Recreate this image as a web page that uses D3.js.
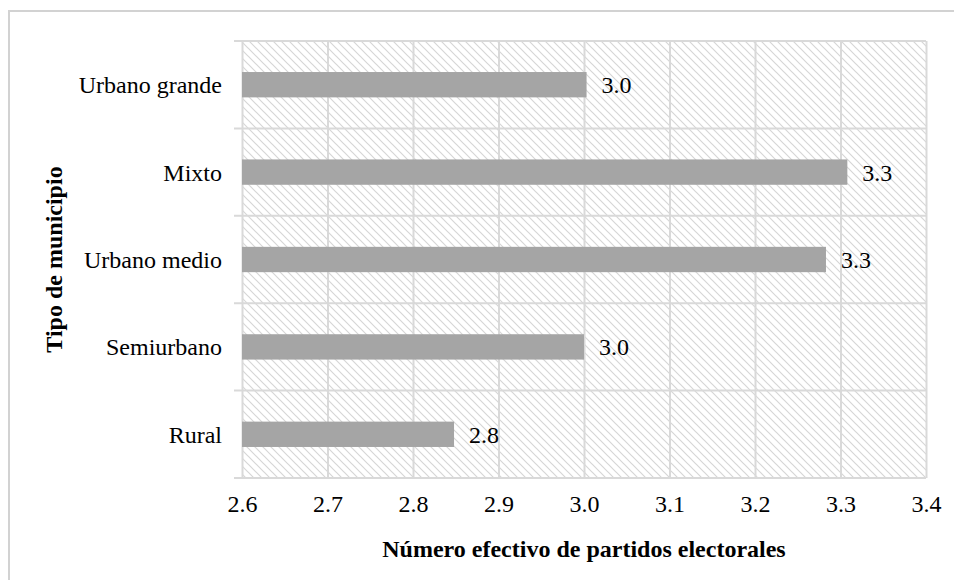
<!DOCTYPE html>
<html>
<head>
<meta charset="utf-8">
<script src="https://cdn.jsdelivr.net/npm/d3@7"></script>
<style>
  body { margin: 0; background: #fff; }
  text { font-family: 'Liberation Serif', 'Times New Roman', serif; fill: #000; }
</style>
</head>
<body>
<div id="chart"></div>
<script>
// data
var categories = ["Urbano grande", "Mixto", "Urbano medio", "Semiurbano", "Rural"];
var values = [3.003, 3.308, 3.283, 3.0, 2.848];
var labels = ["3.0", "3.3", "3.3", "3.0", "2.8"];
var xTicks = [2.6, 2.7, 2.8, 2.9, 3.0, 3.1, 3.2, 3.3, 3.4];

var W = 954, H = 580;
var mLeft = 242, mRight = 926, mTop = 41, mBottom = 478;
var serif = "'Liberation Serif', 'Times New Roman', serif";
var fs = "24px";

var svg = d3.select("#chart").append("svg")
  .attr("width", W)
  .attr("height", H);

// hatch fill of plot area
svg.append("defs").append("pattern")
  .attr("id", "hatch")
  .attr("patternUnits", "userSpaceOnUse")
  .attr("width", 8)
  .attr("height", 8)
  .append("path")
  .attr("d", "M0,0L8,8M-2,6L2,10M6,-2L10,2")
  .attr("stroke", "#d6d6d6")
  .attr("stroke-width", 1.2);

// outer frame (open on right/bottom like the crop)
svg.append("path")
  .attr("d", "M9," + H + "V11H" + W)
  .attr("fill", "none")
  .attr("stroke", "#d2d2d2")
  .attr("stroke-width", 2);

var x = d3.scaleLinear().domain([2.6, 3.4]).range([mLeft, mRight]);
var y = d3.scaleBand().domain(categories).range([mTop, mBottom])
  .paddingInner(0.71).paddingOuter(0.355);

svg.append("rect")
  .attr("x", mLeft).attr("y", mTop)
  .attr("width", mRight - mLeft).attr("height", mBottom - mTop)
  .attr("fill", "url(#hatch)");

// vertical gridlines + tick labels
var xAxis = svg.append("g")
  .attr("transform", "translate(0," + mBottom + ")")
  .call(d3.axisBottom(x).tickValues(xTicks).tickFormat(d3.format(".1f"))
    .tickSize(-(mBottom - mTop)).tickPadding(17));
xAxis.select(".domain").remove();
xAxis.selectAll(".tick line").attr("stroke", "#d9d9d9").attr("stroke-width", 2);
xAxis.selectAll(".tick text")
  .style("font-size", fs)
  .style("font-family", serif);

// horizontal category separators with small outside ticks
var gap = (y.step() - y.bandwidth()) / 2;
var bounds = categories.map(function(c) { return y(c) - gap; });
bounds.push(mBottom);
svg.append("g").selectAll("line")
  .data(bounds)
  .join("line")
  .attr("x1", mLeft - 8)
  .attr("x2", mRight)
  .attr("y1", function(d) { return d; })
  .attr("y2", function(d) { return d; })
  .attr("stroke", "#d9d9d9")
  .attr("stroke-width", 2);

// bars
svg.append("g").selectAll("rect")
  .data(values)
  .join("rect")
  .attr("x", x(2.6))
  .attr("y", function(d, i) { return y(categories[i]); })
  .attr("width", function(d) { return x(d) - x(2.6); })
  .attr("height", y.bandwidth())
  .attr("fill", "#a5a5a5");

// value labels
svg.append("g").selectAll("text")
  .data(values)
  .join("text")
  .attr("x", function(d) { return x(d) + 15; })
  .attr("y", function(d, i) { return y(categories[i]) + y.bandwidth() / 2; })
  .attr("dy", "0.35em")
  .style("font-size", fs)
  .text(function(d, i) { return labels[i]; });

// category labels
svg.append("g").selectAll("text")
  .data(categories)
  .join("text")
  .attr("x", mLeft - 20)
  .attr("y", function(d) { return y(d) + y.bandwidth() / 2; })
  .attr("dy", "0.35em")
  .attr("text-anchor", "end")
  .style("font-size", fs)
  .text(function(d) { return d; });

// axis titles
svg.append("text")
  .attr("x", (mLeft + mRight) / 2)
  .attr("y", 557)
  .attr("text-anchor", "middle")
  .style("font-size", fs)
  .style("font-weight", "bold")
  .text("Número efectivo de partidos electorales");

svg.append("text")
  .attr("transform", "translate(62," + (mTop + mBottom) / 2 + ") rotate(-90)")
  .attr("text-anchor", "middle")
  .style("font-size", fs)
  .style("font-weight", "bold")
  .text("Tipo de municipio");
</script>
</body>
</html>
